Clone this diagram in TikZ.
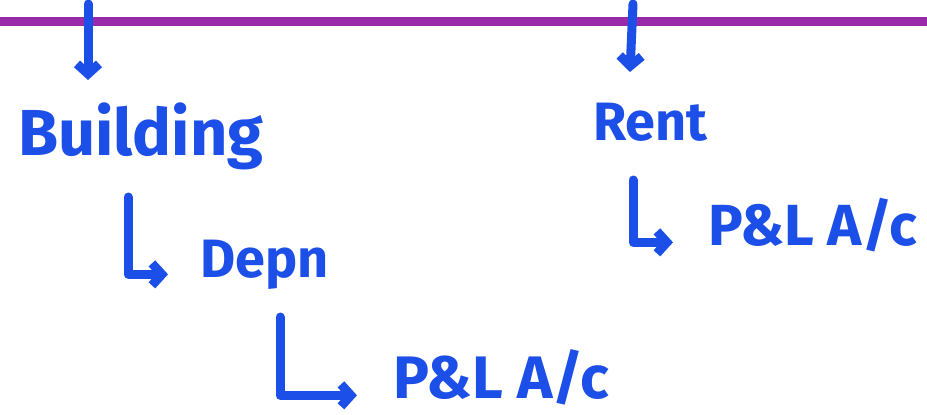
\documentclass[tikz,border=0pt]{standalone}
\usepackage{fontspec}
\setmainfont{Fira Sans}
\usetikzlibrary{arrows.meta}
\definecolor{penblue}{RGB}{28,78,232}
\definecolor{penpurple}{RGB}{152,42,168}
\begin{document}
\begin{tikzpicture}[x=1pt,y=-1pt,
    pen/.style={draw=penblue,line width=9pt,line cap=round,line join=round},
    arr/.style={pen,-{Straight Barb[length=10pt,width=22pt,line width=9pt]}},
    word/.style={text=penblue,inner sep=0pt,anchor=base west,font=\bfseries\fontsize{#1}{#1}\selectfont},
    word/.default=56]
    \useasboundingbox (0,0) rectangle (927,415);
    \draw[penpurple,line width=9pt] (0,21.5) -- (927,21.5);

    \node[word=65] (building) at (18,155) {Building};
    \node[word=54] (rent) at (593,140) {Rent};
    \node[word=54] (depn) at (200,277) {Depn};
    \node[word=58] (placright) at (708,245) {P\&L A/c};
    \node[word=60] (placleft) at (393,398) {P\&L A/c};

    \coordinate (topb) at (88,4);
    \coordinate (topr) at (633,4);
    \draw[arr] (topb) -- (88,80);
    \draw[arr] (topr) -- (630,72);

    \coordinate (hookb) at (128,197);
    \coordinate (hookd) at (280,317);
    \coordinate (hookr) at (633,180);
    \draw[arr] (hookb) |- ([xshift=-32pt]depn.mid west);
    \draw[arr] (hookd) |- ([xshift=-36pt]placleft.mid west);
    \draw[arr] (hookr) |- ([xshift=-35pt]placright.mid west);
\end{tikzpicture}
\end{document}
